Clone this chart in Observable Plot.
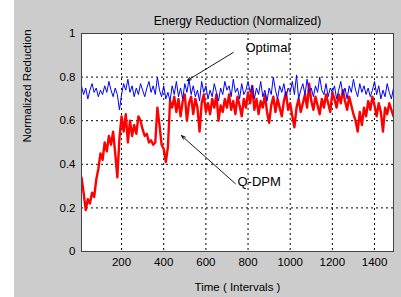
<!DOCTYPE html>
<html>
<head>
<meta charset="utf-8">
<script src="https://cdn.jsdelivr.net/npm/d3@7"></script>
<script src="https://cdn.jsdelivr.net/npm/@observablehq/plot@0.6"></script>
<style>
  html, body { margin: 0; padding: 0; background: #ffffff; }
  #wrap { position: relative; width: 401px; height: 297px; overflow: hidden; }
  #bg { position: absolute; left: 14px; top: 0; width: 387px; height: 297px; background: #cccccc; }
  #chart { position: absolute; left: 0; top: 0; }
  text { font-family: "Liberation Sans", Arial, sans-serif; }
</style>
</head>
<body>
<div id="wrap"><div id="bg"></div><div id="chart"></div></div>
<script>
// Time sampling (every 10 intervals)
const intervals = d3.range(10, 1501, 10);

// Optimal (blue)
const optimal = [
  0.76, 0.72, 0.75, 0.70, 0.74, 0.77, 0.73, 0.75, 0.71, 0.74,
  0.72, 0.76, 0.73, 0.78, 0.74, 0.71, 0.75, 0.72, 0.65, 0.72,
  0.77, 0.74, 0.79, 0.73, 0.76, 0.71, 0.75, 0.72, 0.77, 0.74,
  0.71, 0.75, 0.78, 0.73, 0.76, 0.72, 0.80, 0.74, 0.71, 0.76,
  0.70, 0.73, 0.69, 0.76, 0.72, 0.78, 0.71, 0.75, 0.70, 0.77,
  0.73, 0.79, 0.72, 0.76, 0.71, 0.74, 0.69, 0.78, 0.73, 0.76,
  0.70, 0.74, 0.71, 0.77, 0.73, 0.69, 0.75, 0.72, 0.78, 0.74,
  0.76, 0.71, 0.79, 0.73, 0.75, 0.70, 0.77, 0.72, 0.74, 0.78,
  0.73, 0.76, 0.70, 0.75, 0.72, 0.78, 0.71, 0.74, 0.69, 0.75,
  0.72, 0.80, 0.74, 0.70, 0.76, 0.73, 0.77, 0.71, 0.75, 0.73,
  0.78, 0.72, 0.81, 0.70, 0.74, 0.77, 0.72, 0.79, 0.73, 0.75,
  0.71, 0.76, 0.73, 0.80, 0.74, 0.72, 0.77, 0.71, 0.75, 0.73,
  0.76, 0.70, 0.74, 0.78, 0.72, 0.75, 0.70, 0.76, 0.73, 0.79,
  0.74, 0.71, 0.77, 0.73, 0.76, 0.72, 0.75, 0.71, 0.74, 0.78,
  0.72, 0.76, 0.70, 0.74, 0.71, 0.77, 0.73, 0.70, 0.75, 0.74
];

// Q-DPM (red)
const qdpm = [
  0.34, 0.27, 0.19, 0.24, 0.22, 0.27, 0.25, 0.33, 0.38, 0.45,
  0.42, 0.50, 0.46, 0.53, 0.49, 0.55, 0.45, 0.34, 0.52, 0.62,
  0.55, 0.63, 0.50, 0.60, 0.53, 0.58, 0.54, 0.62, 0.60, 0.56,
  0.53, 0.54, 0.50, 0.51, 0.49, 0.50, 0.66, 0.58, 0.49, 0.47,
  0.41, 0.48, 0.69, 0.66, 0.71, 0.64, 0.70, 0.62, 0.69, 0.72,
  0.60, 0.68, 0.71, 0.63, 0.70, 0.66, 0.55, 0.68, 0.72, 0.64,
  0.68, 0.63, 0.70, 0.66, 0.72, 0.60, 0.67, 0.64, 0.70, 0.66,
  0.72, 0.65, 0.69, 0.63, 0.71, 0.67, 0.62, 0.70, 0.66, 0.73,
  0.68, 0.76, 0.65, 0.70, 0.63, 0.69, 0.66, 0.72, 0.64, 0.59,
  0.67, 0.71, 0.64, 0.70, 0.66, 0.62, 0.69, 0.73, 0.65, 0.68,
  0.62, 0.57, 0.66, 0.70, 0.64, 0.68, 0.72, 0.66, 0.77, 0.69,
  0.65, 0.71, 0.67, 0.63, 0.70, 0.66, 0.72, 0.68, 0.64, 0.73,
  0.70, 0.66, 0.72, 0.68, 0.74, 0.69, 0.65, 0.71, 0.67, 0.63,
  0.60, 0.55, 0.64, 0.58, 0.66, 0.62, 0.69, 0.65, 0.71, 0.67,
  0.62, 0.68, 0.64, 0.55, 0.66, 0.63, 0.68, 0.65, 0.62, 0.66
];

const xTicks = [200, 400, 600, 800, 1000, 1200, 1400];
const xTickLabels = ["200", "400", "600", "800", "1000", "1200", "1400"];
const yTicks = [0, 0.2, 0.4, 0.6, 0.8, 1];
const yTickLabels = ["0", "0.2", "0.4", "0.6", "0.8", "1"];

const titleText = "Energy Reduction (Normalized)";
const xLabel = "Time ( Intervals )";
const yLabel = "Normalized Reduction";

// Annotations (data coordinates)
const annLabels = ["Optimal", "Q-DPM"];
const annTextT = [788, 750];
const annTextV = [0.936, 0.318];
const annFromT = [730, 740];
const annFromV = [0.913, 0.311];
const annToT = [511, 484];
const annToV = [0.784, 0.532];

const optData = intervals.map((t, i) => ({t, v: optimal[i]}));
const qData = intervals.map((t, i) => ({t, v: qdpm[i]}));
const ann = annLabels.map((label, i) => ({
  label, tt: annTextT[i], tv: annTextV[i],
  x1: annFromT[i], y1: annFromV[i], x2: annToT[i], y2: annToV[i]
}));

const fontFam = '"Liberation Sans", Arial, sans-serif';

const chart = Plot.plot({
  width: 401,
  height: 297,
  marginLeft: 81,
  marginRight: 8,
  marginTop: 33,
  marginBottom: 46,
  style: {background: "transparent", fontFamily: fontFam, fontSize: "11.5px", color: "#000"},
  x: {domain: [10, 1490]},
  y: {domain: [0, 1]},
  marks: [
    Plot.frame({fill: "white"}),
    Plot.gridX(xTicks, {stroke: "#000", strokeOpacity: 1, strokeDasharray: "2,3", strokeWidth: 1}),
    Plot.gridY(yTicks.filter(d => d > 0 && d < 1), {stroke: "#000", strokeOpacity: 1, strokeDasharray: "2,3", strokeWidth: 1}),
    Plot.line(qData, {x: "t", y: "v", stroke: "#ff0000", strokeWidth: 2.4, clip: true}),
    Plot.line(optData, {x: "t", y: "v", stroke: "#0000ff", strokeWidth: 1, clip: true}),
    Plot.frame({stroke: "#444", strokeWidth: 1}),
    Plot.axisX(xTicks, {tickSize: 0, tickPadding: 6, fontSize: 11.5, tickFormat: (d, i) => xTickLabels[i], label: null}),
    Plot.axisY(yTicks, {tickSize: 0, tickPadding: 6, fontSize: 11.5, tickFormat: (d, i) => yTickLabels[i], label: null}),
    Plot.text([xLabel], {frameAnchor: "bottom", dy: 39, fontSize: 11.5, fill: "#000"}),
    Plot.text([yLabel], {frameAnchor: "left", dx: -54, rotate: -90, fontSize: 11.5, fill: "#000"}),
    Plot.text([titleText], {frameAnchor: "top", dy: -17, fontSize: 12, fill: "#000"}),
    Plot.arrow(ann, {x1: "x1", y1: "y1", x2: "x2", y2: "y2", stroke: "#000", strokeWidth: 0.9, headLength: 7, headAngle: 40}),
    Plot.text(ann, {x: "tt", y: "tv", text: "label", textAnchor: "start", fontSize: 13, fill: "#000"})
  ]
});
document.getElementById("chart").appendChild(chart);
</script>
</body>
</html>
